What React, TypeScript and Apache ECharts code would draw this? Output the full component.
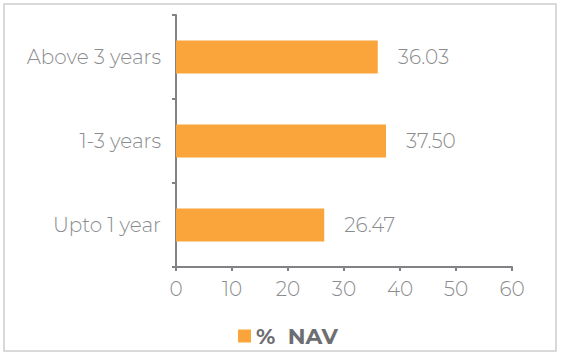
import React, { useEffect, useRef } from "react";
import * as echarts from "echarts";

const categories = ["Upto 1 year", "1-3 years", "Above 3 years"];
const navValues = [26.47, 37.5, 36.03];
const xTicks = [0, 10, 20, 30, 40, 50, 60];
const seriesName = "%  NAV";

export default function App() {
  const ref = useRef<HTMLDivElement>(null);
  useEffect(() => {
    document.body.style.margin = "0";
    const chart = echarts.init(ref.current!, null, { renderer: "svg" });
    const font = "Montserrat, 'Open Sans', 'Noto Sans', sans-serif";
    chart.setOption({
      animation: false,
      textStyle: { fontFamily: font },
      graphic: [
        {
          type: "rect",
          shape: { x: 4, y: 4, width: 552, height: 347 },
          style: { fill: "none", stroke: "#d9d9d9", lineWidth: 2 },
          silent: true,
        },
      ],
      grid: { left: 176, right: 49, top: 15, bottom: 91 },
      legend: {
        data: [seriesName],
        left: 238,
        top: 325,
        padding: 0,
        icon: "rect",
        itemWidth: 13,
        itemHeight: 13,
        textStyle: { color: "#6d6e71", fontSize: 22, fontWeight: "bold", fontFamily: font },
      },
      xAxis: {
        type: "value",
        min: xTicks[0],
        max: xTicks[xTicks.length - 1],
        interval: 10,
        splitLine: { show: false },
        axisLine: { show: true, lineStyle: { color: "#808285", width: 2 } },
        axisTick: { show: true, length: 4, lineStyle: { color: "#808285", width: 2 } },
        axisLabel: { color: "#8a8c8e", fontSize: 20, fontWeight: 300, margin: 12, fontFamily: font },
      },
      yAxis: {
        type: "category",
        data: categories,
        axisLine: { show: true, lineStyle: { color: "#808285", width: 2 } },
        axisTick: { show: true, length: 4, lineStyle: { color: "#808285", width: 2 } },
        axisLabel: { color: "#8a8c8e", fontSize: 20, fontWeight: 300, margin: 15, fontFamily: font },
      },
      series: [
        {
          name: seriesName,
          type: "bar",
          data: navValues,
          barWidth: 33,
          itemStyle: { color: "#f9a53b" },
          label: {
            show: true,
            position: "right",
            distance: 20,
            color: "#8a8c8e",
            fontSize: 20,
            fontWeight: 300,
            fontFamily: font,
            formatter: (p: any) => Number(p.value).toFixed(2),
          },
        },
      ],
    });
    return () => chart.dispose();
  }, []);
  return <div ref={ref} style={{ width: 561, height: 358, position: "absolute", left: 0, top: 0 }} />;
}
